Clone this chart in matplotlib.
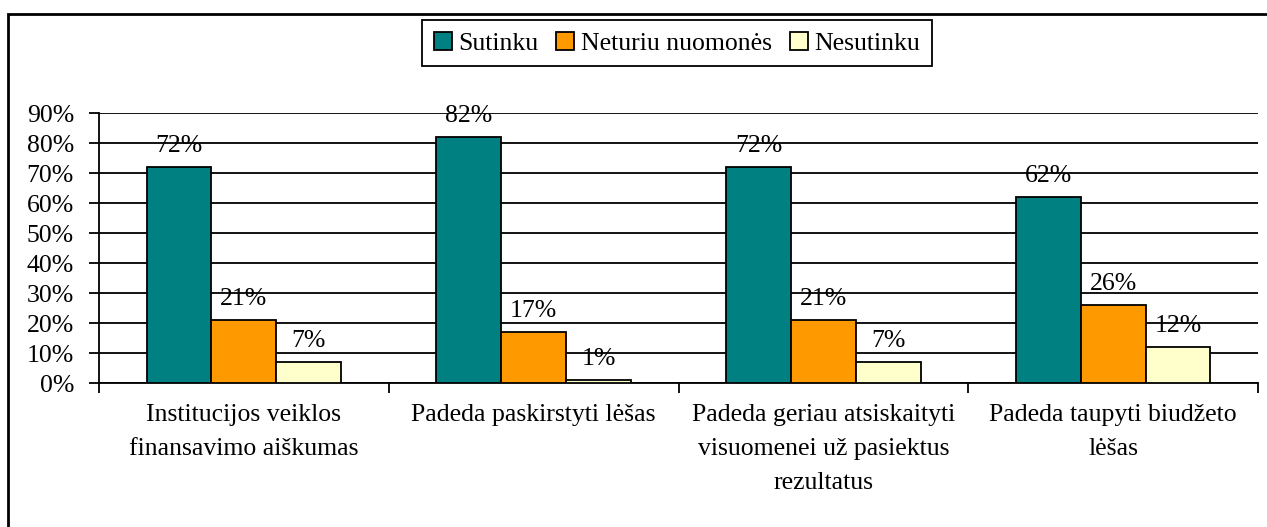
import numpy as np
import matplotlib.pyplot as plt
from matplotlib.patches import Rectangle
from matplotlib.ticker import FuncFormatter

plt.rcParams['font.family'] = ['Liberation Serif', 'DejaVu Serif']

categories = ['Institucijos veiklos\nfinansavimo aiškumas',
              'Padeda paskirstyti lėšas',
              'Padeda geriau atsiskaityti\nvisuomenei už pasiektus\nrezultatus',
              'Padeda taupyti biudžeto\nlėšas']
series_names = ['Sutinku', 'Neturiu nuomonės', 'Nesutinku']
sutinku = [72, 82, 72, 62]
neturiu = [21, 17, 21, 26]
nesutinku = [7, 1, 7, 12]
colors = ['#008080', '#FF9900', '#FFFFCC']

FS = 18.5

fig = plt.figure(figsize=(12.67, 5.27), dpi=100)
ax = fig.add_axes([99 / 1267, 1 - 383 / 527, (1258 - 99) / 1267, (383 - 113) / 527])

# outer chart border (cut off at right and bottom like the original)
fig.patches.append(Rectangle((8 / 1267, -0.1), 1.2, 1 - 14 / 527 + 0.1,
                             transform=fig.transFigure, fill=False,
                             edgecolor='black', linewidth=2, clip_on=False))

x = np.arange(len(categories))
w = 0.224
for i, (vals, name, col) in enumerate(zip([sutinku, neturiu, nesutinku], series_names, colors)):
    pos = x + (i - 1) * w
    ax.bar(pos, np.array(vals) / 100, width=w, color=col, edgecolor='black',
           linewidth=1.3, label=name, zorder=3)
    for p, v in zip(pos, vals):
        ax.text(p, v / 100 + 0.07, f'{v}%', ha='center', va='center', fontsize=FS, zorder=4)

ax.set_xlim(-0.5, len(categories) - 0.5)
ax.set_ylim(0, 0.9)
ax.set_yticks(np.arange(0, 0.91, 0.1))
ax.yaxis.set_major_formatter(FuncFormatter(lambda v, _: f'{v * 100:.0f}%'))
ax.grid(axis='y', color='black', linewidth=1.3, zorder=0)
ax.set_axisbelow(True)

ax.set_xticks(np.arange(-0.5, len(categories)))
ax.set_xticklabels([])
ax.set_xticks(x, minor=True)
ax.set_xticklabels(categories, minor=True, fontsize=FS, linespacing=1.7, va='top')
ax.tick_params(axis='x', which='minor', length=0, pad=15)
ax.tick_params(axis='x', which='major', length=7, width=1.3, direction='out')
ax.tick_params(axis='y', length=7, width=1.3, labelsize=FS, pad=11)

for s in ['top', 'right']:
    ax.spines[s].set_visible(False)
for s in ['left', 'bottom']:
    ax.spines[s].set_linewidth(1.3)

leg = fig.legend(loc='upper center', bbox_to_anchor=(677 / 1267, 1 - 20 / 527), ncol=3,
                 fontsize=FS, frameon=True, fancybox=False, edgecolor='black',
                 handlelength=0.7, handleheight=0.7, handletextpad=0.25, columnspacing=0.7,
                 borderpad=0.45, borderaxespad=0, framealpha=1)
leg.get_frame().set_linewidth(1.3)

fig.savefig('out.png', dpi=100)
